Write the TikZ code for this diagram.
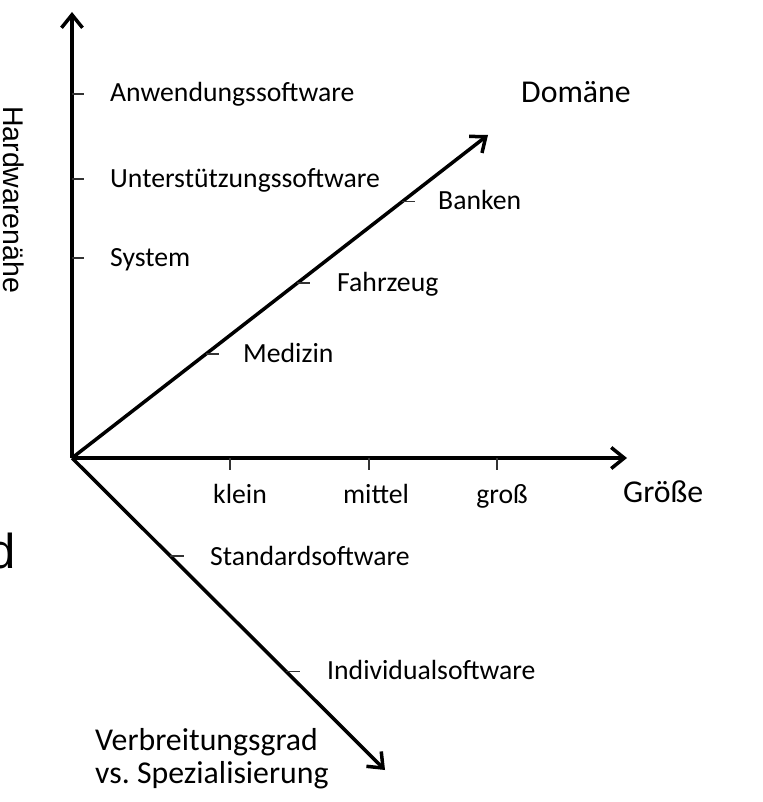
\documentclass[tikz,border=0pt]{standalone}
\usepackage{fontspec}
\setmainfont{Carlito}
\newfontfamily\arialfont{Liberation Sans}
\usetikzlibrary{arrows.meta,calc}
\frenchspacing
\begin{document}
\begin{tikzpicture}[x=1pt,y=-1pt,
  axis/.style={line width=3.5pt,-{Straight Barb[length=13pt,width=21pt]}},
  tick/.style={line width=1.2pt,draw=black!80},
  lbl/.style={inner sep=0pt,anchor=base west,font=\fontsize{27.7}{33}\selectfont},
  biglbl/.style={inner sep=0pt,anchor=base west,font=\fontsize{31.8}{37}\selectfont,align=left}]
\useasboundingbox (0,0) rectangle (762,802);
% axes
\coordinate (O) at (72,458);
\coordinate (Ytop) at (72,12);
\coordinate (Xend) at (627,458);
\coordinate (Dend) at (488,135);
\coordinate (Vend) at (385,770);
\draw[axis] (O) -- (Ytop);
\draw[axis] (O) -- (Xend);
\draw[axis] (O) -- (Dend);
\draw[axis] (O) -- (Vend);
% vertical ticks
\coordinate (ya) at (72,94);
\coordinate (yu) at (72,179);
\coordinate (ys) at (72,258);
\foreach \c in {ya,yu,ys} \draw[tick] (\c) -- ++(12,0);
% horizontal ticks
\coordinate (xk) at (230,458);
\coordinate (xm) at (369,458);
\coordinate (xg) at (497,458);
\foreach \c in {xk,xm,xg} \draw[tick] (\c) -- ++(0,12);
% domain ticks
\coordinate (dm) at ($(O)!0.322!(Dend)$);
\coordinate (df) at ($(O)!0.542!(Dend)$);
\coordinate (db) at ($(O)!0.793!(Dend)$);
\foreach \c in {dm,df,db} \draw[tick] (\c) -- ++(13,0);
% spread ticks
\coordinate (vs) at ($(O)!0.314!(Vend)$);
\coordinate (vi) at ($(O)!0.683!(Vend)$);
\foreach \c in {vs,vi} \draw[tick] (\c) -- ++(14,0);
% labels
\node[lbl] (la) at (110,102) {Anwendungssoftware};
\node[lbl] (lu) at (110,188) {Unterstützungssoftware};
\node[lbl] (ls) at (110,266) {System};
\node[biglbl] (ldom) at (521,103) {Domäne};
\node[lbl] (lb) at (438,210) {Banken};
\node[lbl] (lf) at (337,291) {Fahrzeug};
\node[lbl] (lme) at (243,362) {Medizin};
\node[lbl,anchor=base] (lk) at (240,503) {klein};
\node[lbl,anchor=base] (lmi) at (376,503) {mittel};
\node[lbl,anchor=base] (lg) at (502,503) {groß};
\node[biglbl] (lgr) at (623,502) {Größe};
\node[lbl] (lst) at (210,565) {Standardsoftware};
\node[lbl] (lin) at (327,679) {Individualsoftware};
\node[biglbl] (lver) at (95,750) {Verbreitungsgrad};
\node[biglbl] (lvs) at (95,783) {vs. Spezialisierung};
\node[inner sep=0pt,anchor=base west,rotate=-90,font=\arialfont\fontsize{28.5}{32}\selectfont] (lhw) at (3,106) {Hardwarenähe};
\node[inner sep=0pt,anchor=base west,font=\arialfont\fontsize{49}{56}\selectfont] (ld) at (-11.5,568) {d};
\end{tikzpicture}
\end{document}
